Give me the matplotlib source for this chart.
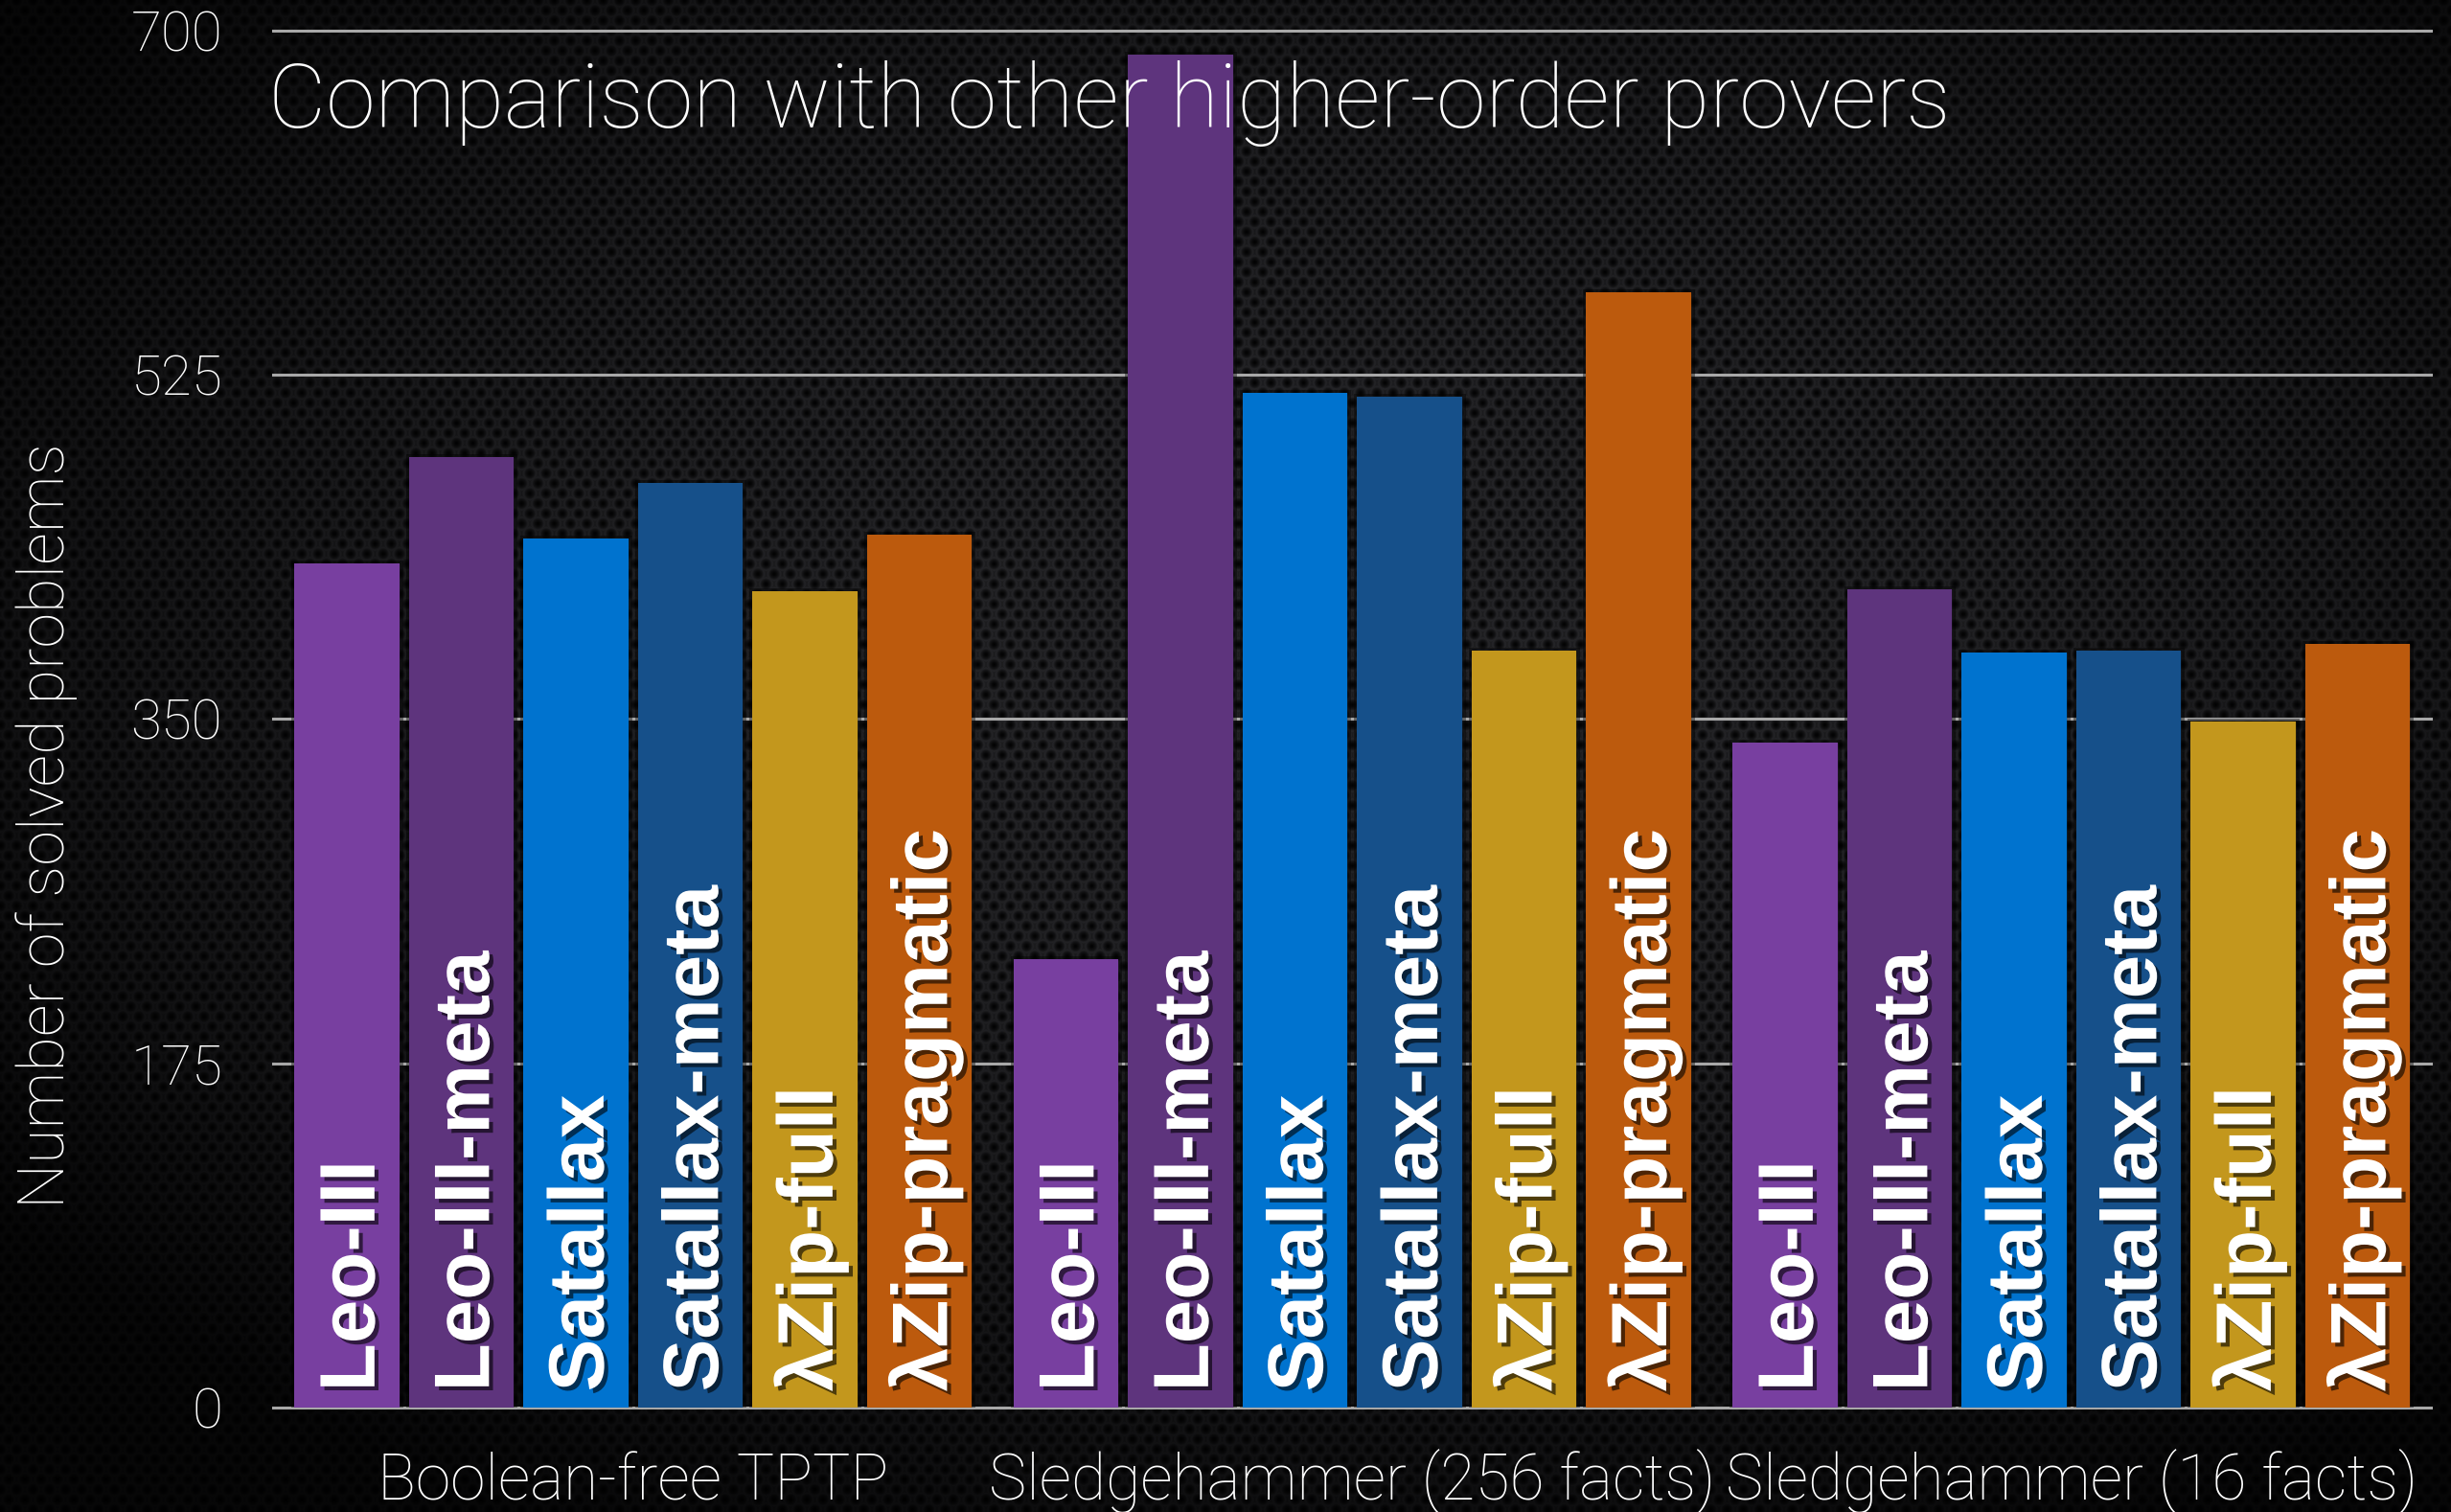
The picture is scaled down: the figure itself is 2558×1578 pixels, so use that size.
import numpy as np
import matplotlib
matplotlib.use("Agg")
import matplotlib.pyplot as plt
import matplotlib.patheffects as pe
from matplotlib import transforms

# data
groups = ["Boolean-free TPTP", "Sledgehammer (256 facts)", "Sledgehammer (16 facts)"]
provers = ["Leo-III", "Leo-III-meta", "Satallax", "Satallax-meta", "λZip-full", "λZip-pragmatic"]
colors = ["#783FA0", "#5E347D", "#0073CF", "#16508A", "#C3971D", "#BC5A0D"]
tptp = [429, 483, 442, 470, 415, 444]
sh256 = [228, 688, 516, 514, 385, 567]
sh16 = [338, 416, 384, 385, 349, 388]
yticks = [0, 175, 350, 525, 700]

plt.rcParams["font.family"] = ["Roboto", "DejaVu Sans"]
plt.rcParams["font.weight"] = "light"
bold = ["Liberation Sans", "DejaVu Sans"]

fig = plt.figure(figsize=(25.58, 15.78), dpi=100)

# perforated metal background with vignette
H, W = 1578, 2558
yy, xx = np.mgrid[0:H, 0:W].astype(float)
a, h = 17.0, 10.5
r0 = np.floor(yy / h)
d = np.full(yy.shape, 1e9)
for r in (r0, r0 + 1):
    shift = (r % 2) * a / 2
    cx = np.round((xx - shift) / a) * a + shift
    d = np.minimum(d, np.hypot(xx - cx, yy - r * h))
tex = 0.105 - 0.09 * np.exp(-(d / 4.0) ** 2) + 0.045 * np.exp(-((d - 6.5) / 1.5) ** 2)
u = (xx / W - 0.55) / 0.8
v = (yy / H - 0.42) / 0.8
vig = np.clip(1 - 1.15 * (u ** 2 + v ** 2), 0.2, 1)
img = tex * vig
rgb = np.clip(np.dstack([img, img, img * 1.08]), 0, 1)
bg = fig.add_axes([0, 0, 1, 1])
bg.imshow(rgb, aspect="auto", interpolation="nearest")
bg.axis("off")

ax = fig.add_axes([0.1114, 0.0691, 0.8804, 0.9106])
ax.set_facecolor("none")

gap = 6.28
shadow = [pe.Stroke(linewidth=5, foreground="black", alpha=0.4), pe.Normal()]
for gi, vals in enumerate([tptp, sh256, sh16]):
    x = gi * gap + np.arange(len(provers))
    bars = ax.bar(x, vals, width=0.915, color=colors, zorder=3)
    for b in bars:
        b.set_path_effects(shadow)
    trans = transforms.offset_copy(ax.transData, fig=fig, x=20.8, y=12, units="points")
    for xi, name in zip(x, provers):
        ax.text(xi, 0, name, transform=trans, rotation=90, rotation_mode="anchor",
                ha="left", va="baseline", fontsize=59, fontweight="bold", family=bold,
                color="white", zorder=5,
                path_effects=[pe.withSimplePatchShadow(offset=(3, -3), shadow_rgbFace="black", alpha=0.6)])
    ax.text(gi * gap + 2.5, 0.0082, groups[gi],
            transform=transforms.blended_transform_factory(ax.transData, fig.transFigure),
            ha="center", va="baseline", fontsize=47.5, color="white")

ax.set_xlim(-0.644, 18.2)
ax.set_ylim(0, 700)
ax.set_xticks([])
ax.set_yticks(yticks)
ax.yaxis.grid(True, color="#a8a8a8", lw=2.2)
ax.set_axisbelow(True)
for gl in ax.get_ygridlines():
    gl.set_clip_on(False)
ax.tick_params(axis="y", length=0, pad=38, labelsize=42, labelcolor="white")
for s in ax.spines.values():
    s.set_visible(False)

fig.text(0.1095, 0.9157, "Comparison with other higher-order provers", fontsize=67.1,
         va="baseline", color="white", zorder=10)
fig.text(0.019, 0.454, "Number of solved problems", rotation=90, ha="center", va="center",
         fontsize=48, color="white")

fig.savefig("out.png", dpi=100)
